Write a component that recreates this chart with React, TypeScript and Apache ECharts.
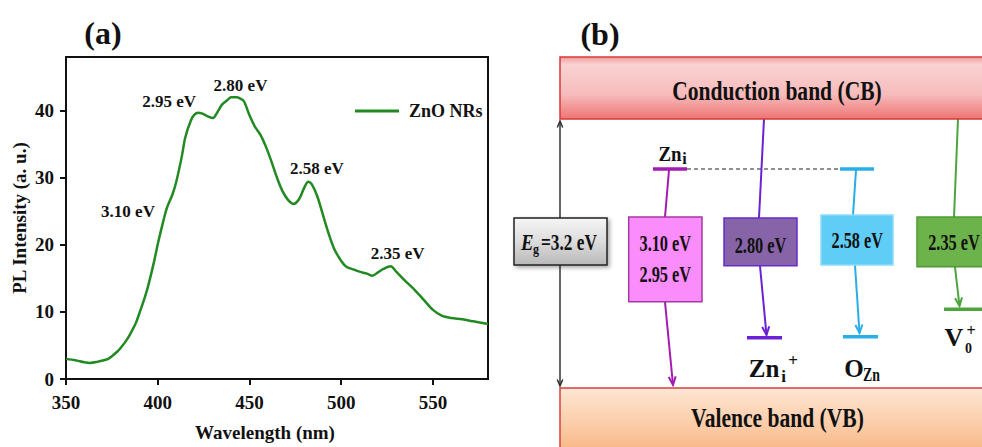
import React, { useEffect, useRef } from "react";
import * as echarts from "echarts";

// ---- Panel (a) data ----
const wavelengths = [350,355,360,363,367,370,373,375,378,380,383,385,388,390,393,395,398,400,403,405,408,410,413,415,418,420,422,424,427,430,433,435,438,440,443,445,447,450,453,456,459,462,465,468,471,474,477,480,482,484,487,490,493,496,500,503,507,510,514,517,520,523,527,530,535,540,545,550,555,560,566,572,580];
const intensities = [3.0,2.8,2.5,2.4,2.55,2.75,3.0,3.4,4.1,4.7,5.8,6.7,8.3,9.8,12.2,14.1,17.5,20.1,23.5,25.5,27.5,29.3,33.0,36.0,38.5,39.4,39.7,39.6,39.2,38.9,40.0,40.9,41.6,42.0,42.0,41.8,41.4,39.3,37.6,36.4,34.6,32.4,30.0,28.0,26.7,26.1,26.8,28.6,29.4,29.0,27.2,24.5,21.8,19.5,17.6,16.7,16.3,16.0,15.7,15.4,15.9,16.4,16.8,16.0,14.6,13.3,11.8,10.3,9.4,9.1,8.9,8.6,8.2];
const seriesName = "ZnO NRs";
const xTicks = [350, 400, 450, 500, 550];
const yTicks = [0, 10, 20, 30, 40];
const annoLabels = ["3.10 eV", "2.95 eV", "2.80 eV", "2.58 eV", "2.35 eV"];
const annoX = [383.8, 406.2, 445.1, 486.7, 530.8];
const annoY = [24.9, 41.3, 43.7, 31.4, 18.7];

// ---- Panel (b) texts ----
const boxTexts = ["3.10 eV", "2.95 eV", "2.80 eV", "2.58 eV", "2.35 eV"];
const bandTexts = ["Conduction band (CB)", "Valence band (VB)"];

const SERIF = "'Liberation Serif', 'Times New Roman', serif";

function txt(text: string, x: number, y: number, size: number, opts: any = {}) {
  return {
    type: "text",
    x,
    y,
    scaleX: opts.scaleX ?? 1,
    z: 10,
    style: {
      text,
      fontFamily: SERIF,
      fontWeight: "bold",
      fontStyle: opts.italic ? "italic" : "normal",
      fontSize: size,
      fill: opts.color ?? "#111",
      align: opts.align ?? "center",
      verticalAlign: "middle",
    },
  };
}

function seg(x1: number, y1: number, x2: number, y2: number, color: string, w: number, dash?: number[]) {
  return {
    type: "line",
    z: 5,
    shape: { x1, y1, x2, y2 },
    style: { stroke: color, lineWidth: w, lineDash: dash },
  };
}

function arrow(x1: number, y1: number, x2: number, y2: number, color: string, w = 2, size = 9) {
  const ang = Math.atan2(y2 - y1, x2 - x1);
  const a1 = ang + Math.PI - 0.4;
  const a2 = ang + Math.PI + 0.4;
  return [
    seg(x1, y1, x2, y2, color, w),
    {
      type: "polyline",
      z: 5,
      shape: {
        points: [
          [x2 + size * Math.cos(a1), y2 + size * Math.sin(a1)],
          [x2, y2],
          [x2 + size * Math.cos(a2), y2 + size * Math.sin(a2)],
        ],
      },
      style: { stroke: color, lineWidth: w, fill: null },
    },
  ];
}

function box(x: number, y: number, w: number, h: number, fill: any, stroke: string, lw = 1.5, shadow = false) {
  return {
    type: "rect",
    z: 8,
    shape: { x, y, width: w, height: h },
    style: {
      fill,
      stroke,
      lineWidth: lw,
      shadowBlur: shadow ? 4 : 0,
      shadowColor: "rgba(0,0,0,0.35)",
      shadowOffsetX: shadow ? 2 : 0,
      shadowOffsetY: shadow ? 2 : 0,
    },
  };
}

function grad(stops: [number, string][]) {
  return new echarts.graphic.LinearGradient(0, 0, 0, 1, stops.map(([offset, color]) => ({ offset, color })));
}

export default function App() {
  const ref = useRef<HTMLDivElement>(null);
  useEffect(() => {
    if (!ref.current) return;
    const chart = echarts.init(ref.current, null, { renderer: "svg" });
    const purple = "#a21caf";
    const violet = "#6a22d4";
    const cyan = "#2aaee6";
    const green = "#4ea43c";

    const graphics: any[] = [
      txt("(a)", 103, 33, 32),
      txt("(b)", 600, 34, 32),
      // bands
      box(560, 57, 440, 62, grad([[0, "#f39a9a"], [0.12, "#fad2d2"], [0.6, "#f7bcbc"], [1, "#ee7474"]]), "#d63a3a", 1.5),
      box(560, 388, 440, 80, grad([[0, "#fde6d4"], [0.5, "#fbcaa4"], [1, "#f6a86c"]]), "#d84040", 1.5),
      txt(bandTexts[0], 777, 90, 28, { scaleX: 0.77 }),
      txt(bandTexts[1], 777.5, 417, 28, { scaleX: 0.77 }),
      // Eg double arrow
      ...arrow(560, 240, 560, 121, "#333", 1.5, 7),
      ...arrow(560, 240, 560, 386, "#333", 1.5, 7),
      box(514, 218, 93, 47, grad([[0, "#f6f6f6"], [0.5, "#dcdcdc"], [1, "#b8b8b8"]]), "#222", 1.5, true),
      txt("E", 521, 241.7, 24, { italic: true, align: "left", scaleX: 0.78 }),
      txt("g", 533, 249, 15, { align: "left", scaleX: 0.8 }),
      txt("=3.2 eV", 541, 241.7, 24, { align: "left", scaleX: 0.72 }),
      // Zn_i level and dashed line
      seg(653, 169, 687, 169, purple, 3.5),
      seg(687, 169, 840, 169, "#222", 1.2, [4, 3]),
      seg(840, 169, 874, 169, cyan, 3.5),
      txt("Zn", 670, 153.3, 21, { scaleX: 0.9 }),
      txt("i", 684.5, 158, 16),
      // connecting lines
      seg(669, 170, 665, 217, purple, 2),
      seg(764, 119, 759, 218, violet, 2),
      seg(856, 170, 853, 215, cyan, 2),
      seg(958, 119, 954, 217, green, 2),
      // downward arrows
      ...arrow(665, 302, 673, 385, purple, 2),
      ...arrow(760, 266, 766.5, 335, violet, 2),
      seg(747, 337.7, 782, 337.7, violet, 3.5),
      ...arrow(855, 265, 859.5, 333, cyan, 2),
      seg(843, 336.7, 878, 336.7, cyan, 3.5),
      ...arrow(955, 267, 959.5, 306, green, 2),
      seg(944, 309.3, 985, 309.3, green, 3.5),
      // boxes
      box(628.7, 217, 73.3, 84.7, "#fb8cfb", "#a33aa3"),
      box(724, 218, 73, 47.7, "#8763a7", "#6a2ad0"),
      box(821, 215, 72, 50, "#60cdf7", "#8fdcfa"),
      box(917, 217, 75, 49.7, "#6db34b", "#4d9a34"),
      txt(boxTexts[0], 665.3, 243.3, 24, { scaleX: 0.68 }),
      txt(boxTexts[1], 665.3, 274, 24, { scaleX: 0.68 }),
      txt(boxTexts[2], 760.5, 245, 24, { scaleX: 0.68 }),
      txt(boxTexts[3], 857.3, 240, 24, { scaleX: 0.68 }),
      txt(boxTexts[4], 954, 241.7, 24, { scaleX: 0.68 }),
      // defect labels
      txt("Zn", 764, 368.3, 25),
      txt("i", 783.5, 376.5, 17),
      txt("+", 793, 360, 17),
      txt("O", 854, 368.3, 25),
      txt("Zn", 871.5, 375, 18, { scaleX: 0.77 }),
      txt("V", 954, 337.5, 26),
      txt("0", 968.5, 348.5, 14),
      txt("+", 971, 330.5, 16),
    ];

    const axisFont = { fontFamily: SERIF, fontWeight: "bold" as const, color: "#111" };

    chart.setOption({
      animation: false,
      grid: { left: 66, top: 57, width: 422, height: 332, show: true, borderColor: "#111", borderWidth: 2, backgroundColor: "transparent" },
      legend: {
        data: [seriesName],
        left: 350,
        top: 97,
        icon: "rect",
        itemWidth: 44,
        itemHeight: 3,
        itemGap: 10,
        textStyle: { ...axisFont, fontSize: 18, padding: [0, 0, 0, 5] },
      },
      xAxis: {
        type: "value",
        min: 350,
        max: 580,
        name: "Wavelength (nm)",
        nameLocation: "middle",
        nameGap: 44,
        nameTextStyle: { ...axisFont, fontSize: 19, padding: [0, 24, 0, 0] },
        axisLine: { lineStyle: { color: "#111", width: 2 } },
        axisTick: { inside: false, length: 6, lineStyle: { color: "#111", width: 2 }, customValues: xTicks },
        axisLabel: { ...axisFont, fontSize: 19, margin: 14, customValues: xTicks },
        splitLine: { show: false },
      },
      yAxis: {
        type: "value",
        min: 0,
        max: 48,
        name: "PL Intensity (a. u.)",
        nameLocation: "middle",
        nameGap: 37,
        nameTextStyle: { ...axisFont, fontSize: 19 },
        axisLine: { lineStyle: { color: "#111", width: 2 } },
        axisTick: { inside: false, length: 6, lineStyle: { color: "#111", width: 2 }, customValues: yTicks },
        axisLabel: { ...axisFont, fontSize: 19, margin: 12, customValues: yTicks },
        splitLine: { show: false },
      },
      series: [
        {
          name: seriesName,
          type: "line",
          data: wavelengths.map((w, i) => [w, intensities[i]]),
          smooth: 0.3,
          showSymbol: false,
          lineStyle: { color: "#228a22", width: 2.5 },
          itemStyle: { color: "#228a22" },
        },
        {
          name: "annotations",
          type: "scatter",
          symbolSize: 1,
          itemStyle: { color: "transparent" },
          data: annoLabels.map((l, i) => ({ name: l, value: [annoX[i], annoY[i]] })),
          label: {
            show: true,
            position: "inside",
            formatter: (p: any) => p.name,
            ...axisFont,
            fontSize: 17,
            textBorderWidth: 0,
            textBorderColor: "transparent",
            opacity: 1,
          },
          silent: true,
        },
      ],
      graphic: graphics,
    });
    return () => chart.dispose();
  }, []);
  return <div ref={ref} style={{ position: "absolute", left: 0, top: 0, width: 982, height: 447 }} />;
}
